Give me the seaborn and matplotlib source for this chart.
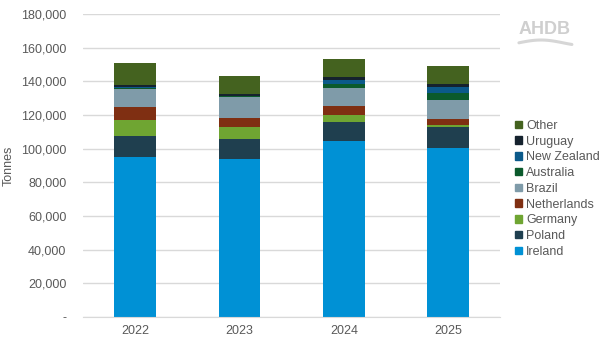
import matplotlib
matplotlib.use("Agg")
import matplotlib.pyplot as plt
import matplotlib.patches as mpatches
import matplotlib.ticker as mticker
import numpy as np
import pandas as pd
import seaborn as sns

# Data (tonnes), stacked bottom to top
years = ["2022", "2023", "2024", "2025"]
ireland = [95100, 93600, 104600, 100500]
poland = [12700, 12000, 11500, 12500]
germany = [9300, 7000, 4200, 1000]
netherlands = [7700, 5900, 4900, 3600]
brazil = [10900, 12200, 10900, 11300]
australia = [500, 300, 2400, 3900]
new_zealand = [500, 300, 2400, 3600]
uruguay = [1000, 1000, 1500, 2000]
other = [13400, 10800, 10900, 10900]

series = ["Ireland", "Poland", "Germany", "Netherlands", "Brazil",
          "Australia", "New Zealand", "Uruguay", "Other"]
values = [ireland, poland, germany, netherlands, brazil,
          australia, new_zealand, uruguay, other]
colours = ["#0091d5", "#1f3f4f", "#6fa532", "#7f2f12", "#7f9ba9",
           "#0b5a2c", "#0b5a8a", "#15222e", "#44621f"]

df = pd.DataFrame(dict(zip(series, values)), index=years)
cum = df.cumsum(axis=1)

sns.set_style("white")
plt.rcParams["font.family"] = ["Liberation Sans", "DejaVu Sans"]
grey = "#595959"

fig = plt.figure(figsize=(6.02, 3.51), dpi=100)
ax = fig.add_axes([0.138, 0.097, 0.693, 0.863])

# draw cumulative totals from the top down so each layer shows its own slice
for name, col in reversed(list(zip(series, colours))):
    plot_df = pd.DataFrame({"year": years, "top": cum[name].values})
    sns.barplot(data=plot_df, x="year", y="top", color=col, width=0.4,
                saturation=1, ax=ax, linewidth=0)

ax.set_ylim(0, 180000)
ax.set_yticks(np.arange(0, 180001, 20000))
ax.yaxis.set_major_formatter(mticker.FuncFormatter(
    lambda v, p: "-" if v == 0 else f"{v:,.0f}"))
ax.grid(axis="y", color="#d9d9d9", linewidth=1)
ax.set_axisbelow(True)
for s in ax.spines.values():
    s.set_visible(False)
ax.spines["bottom"].set_visible(True)
ax.spines["bottom"].set_color("#d9d9d9")
ax.tick_params(axis="both", length=0, labelsize=9, colors=grey, pad=6)
ax.tick_params(axis="y", pad=12)
ax.set_xlabel("")
ax.set_ylabel("Tonnes", fontsize=9, color=grey)
ax.yaxis.set_label_coords(-0.163, 0.5)

handles = [mpatches.Patch(color=c, label=n)
           for n, c in reversed(list(zip(series, colours)))]
leg = fig.legend(handles=handles, loc="center left",
                 bbox_to_anchor=(0.848, 0.462), frameon=False, fontsize=9,
                 handlelength=0.55, handleheight=0.55, handletextpad=0.3,
                 labelspacing=0.3, borderaxespad=0)
for t in leg.get_texts():
    t.set_color(grey)

# AHDB watermark logo
fig.text(0.905, 0.917, "AHDB", fontsize=13, color="#cfcfcf",
         ha="center", va="center", fontweight="bold")
xs = np.linspace(0.862, 0.95, 50)
ys = 0.878 + 0.008 * np.sin((xs - 0.862) / 0.088 * np.pi * 1.2)
fig.add_artist(plt.Line2D(xs, ys, color="#d6d6d6", linewidth=2.2,
                          transform=fig.transFigure))

fig.savefig("out.png", dpi=100)
